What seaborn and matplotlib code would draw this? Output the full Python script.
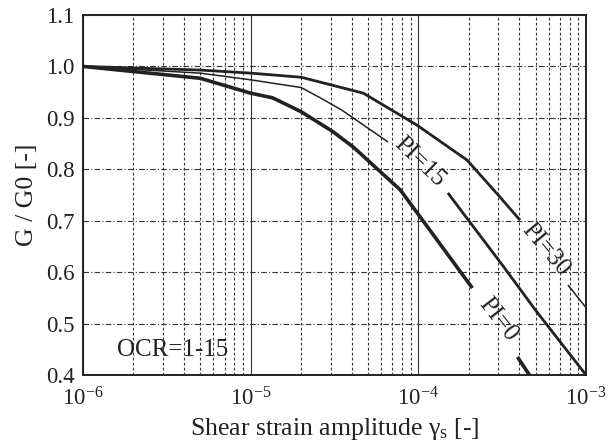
import matplotlib
matplotlib.use("Agg")
import matplotlib.pyplot as plt
import seaborn as sns
import pandas as pd
from matplotlib.ticker import LogLocator, FixedLocator

# Curvas G/G0 - amplitud de deformacion
# PI=0 (linea gruesa), tramo antes y despues de la etiqueta
pi0_x_a = [1e-6, 5e-6, 1e-5, 1.35e-5, 2e-5, 3.1e-5, 4.1e-5, 7.8e-5, 1.17e-4, 2.1e-4]
pi0_y_a = [1.0, 0.977, 0.948, 0.939, 0.912, 0.873, 0.843, 0.760, 0.682, 0.569]
pi0_x_b = [3.9e-4, 4.6e-4]
pi0_y_b = [0.435, 0.40]

# PI=15 (linea fina)
pi15_x_a = [1e-6, 5e-6, 1e-5, 2e-5, 2.6e-5, 3.5e-5, 6.6e-5]
pi15_y_a = [1.0, 0.987, 0.974, 0.959, 0.939, 0.915, 0.853]
pi15_x_b = [1.5e-4, 2.0e-4, 3.2e-4, 5e-4, 1e-3]
pi15_y_b = [0.754, 0.700, 0.612, 0.526, 0.40]

# PI=30
pi30_x_a = [1e-6, 5e-6, 1e-5, 2e-5, 4.7e-5, 9.8e-5, 1.95e-4, 3.07e-4, 4.04e-4]
pi30_y_a = [1.0, 0.993, 0.987, 0.979, 0.948, 0.886, 0.818, 0.746, 0.701]
pi30_x_b = [7.8e-4, 1e-3]
pi30_y_b = [0.575, 0.531]

# Etiquetas de las curvas: texto, x, y, angulo
labels = ["PI=15", "PI=30", "PI=0"]
label_x = [1.02e-4, 5.7e-4, 3.0e-4]
label_y = [0.814, 0.643, 0.507]
label_rot = [-44, -50, -52]

sns.set_style("white")
plt.rcParams["font.family"] = ["Liberation Serif", "DejaVu Serif"]
plt.rcParams["mathtext.fontset"] = "custom"
plt.rcParams["mathtext.rm"] = "Liberation Serif"
plt.rcParams["mathtext.it"] = "Liberation Serif:italic"
plt.rcParams["axes.unicode_minus"] = False

fig = plt.figure(figsize=(6.14, 4.47), dpi=100)
ax = fig.add_axes([0.1352, 0.1611, 0.8192, 0.8053])

col = "#222222"
segs = [
    (pi0_x_a, pi0_y_a, 2.6), (pi0_x_b, pi0_y_b, 2.6),
    (pi15_x_a, pi15_y_a, 1.1), (pi15_x_b, pi15_y_b, 2.0),
    (pi30_x_a, pi30_y_a, 2.0), (pi30_x_b, pi30_y_b, 1.1),
]
for xs, ys, lw in segs:
    df = pd.DataFrame({"x": xs, "y": ys})
    sns.lineplot(data=df, x="x", y="y", ax=ax, color=col, linewidth=lw,
                 estimator=None, sort=False, solid_capstyle="butt")

ax.set_xscale("log")
ax.set_xlim(1e-6, 1e-3)
ax.set_ylim(0.4, 1.1)
ax.set_yticks([0.4, 0.5, 0.6, 0.7, 0.8, 0.9, 1.0, 1.1])
ax.set_yticklabels(["0.4", "0.5", "0.6", "0.7", "0.8", "0.9", "1.0", "1.1"])
ax.xaxis.set_major_locator(FixedLocator([1e-6, 1e-5, 1e-4, 1e-3]))
ax.set_xticklabels([r"10$^{\mathregular{-6}}$", r"10$^{\mathregular{-5}}$",
                    r"10$^{\mathregular{-4}}$", r"10$^{\mathregular{-3}}$"])
ax.xaxis.set_minor_locator(LogLocator(base=10, subs=range(2, 10)))
ax.tick_params(axis="both", which="both", length=0, labelsize=16.5, colors="#222222")
ax.tick_params(axis="y", pad=6)
ax.tick_params(axis="x", pad=9)

# rejilla
ax.grid(True, which="major", axis="x", color="#333333", linewidth=0.8, linestyle="-")
ax.grid(True, which="minor", axis="x", color="#333333", linewidth=0.8, linestyle=(0, (2.5, 2)))
ax.grid(True, which="major", axis="y", color="#333333", linewidth=0.8, linestyle=(0, (5, 2, 1, 2)))
ax.set_axisbelow(True)

for s in ax.spines.values():
    s.set_color("#222222")
    s.set_linewidth(1.4)

ax.set_xlabel("Shear strain amplitude γ$_{\\mathregular{s}}$ [-]", fontsize=18.5, color="#222222", labelpad=4)
ax.set_ylabel("G / G0 [-]", fontsize=18.5, color="#222222", labelpad=6)

for t, x, y, r in zip(labels, label_x, label_y, label_rot):
    ax.text(x, y, t, rotation=r, rotation_mode="anchor", ha="center", va="center",
            fontsize=18, color="#222222")

ax.text(1.6e-6, 0.449, "OCR=1-15", fontsize=18, color="#222222", va="center", ha="left")

fig.savefig("out.png", dpi=100)
